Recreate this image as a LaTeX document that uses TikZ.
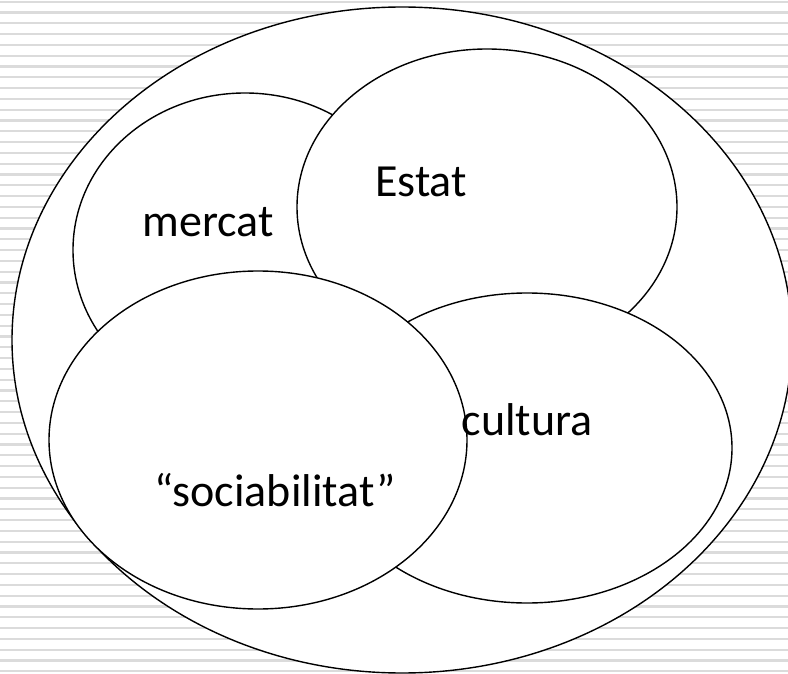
\documentclass[tikz,border=0pt]{standalone}
\usepackage{fontspec}
\setmainfont{Carlito}
\tikzstyle{blob}=[draw,fill=white,line width=1.4pt]
\tikzstyle{stripe}=[draw,black!14,line width=2.2pt]
\tikzstyle{word}=[inner sep=0pt,font=\fontsize{46}{52}\selectfont]

\begin{document}
\begin{tikzpicture}[x=1pt,y=-1pt]
    \useasboundingbox (0,0) rectangle (788,674);
    \clip (0,0) rectangle (788,674);
    % First the striped background
    \fill[white] (0,0) rectangle (788,674);
    \foreach \k in {0,...,62}
        \path[stripe] (0,1.7+10.8*\k) -- (788,1.7+10.8*\k);
    % The big ellipse and the four spheres on top of it
    \foreach \pos/\rx/\ry in {{(402,340)/390/333}, {(245,250)/172/157}, {(487,207)/190/158}, {(527,448)/205/155}, {(258,440)/209/169}}
        \path[blob] \pos ellipse [x radius=\rx, y radius=\ry];
    % Then the names
    \node[word] (mercat) at (208,222) {mercat};
    \node[word] (estat) at (421,182) {Estat};
    \node[word] (cultura) at (527,420) {cultura};
    \node[word] (sociab) at (275,490) {“sociabilitat”};
\end{tikzpicture}
\end{document}
